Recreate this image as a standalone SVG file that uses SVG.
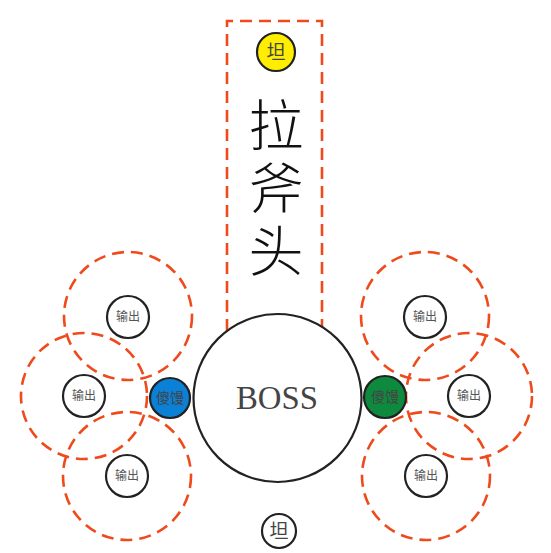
<svg xmlns="http://www.w3.org/2000/svg" width="551" height="553" viewBox="0 0 551 553">
<style>
.dash{fill:none;stroke:#ef4a1b;stroke-width:2.6;stroke-dasharray:12 7}
.node{fill:#fff;stroke:#222;stroke-width:2.2}
.out{font-family:"Noto Sans CJK SC","Noto Sans",sans-serif;font-size:12px;fill:#555;text-anchor:middle}
.cjk{font-family:"Noto Sans CJK SC",sans-serif;text-anchor:middle}
</style>
<rect width="551" height="553" fill="#fff"/>
<g id="connectors">
<path class="dash" d="M227,331 V21 H322 V327"/>
<circle class="dash" cx="128" cy="316" r="64"/>
<circle class="dash" cx="84" cy="396" r="63"/>
<circle class="dash" cx="127" cy="476" r="64"/>
<circle class="dash" cx="425" cy="316" r="64"/>
<circle class="dash" cx="469" cy="396" r="63"/>
<circle class="dash" cx="426" cy="476" r="64"/>
</g>
<g id="title">
<text x="276" y="97" font-family="Noto Sans CJK SC,sans-serif" font-size="55" font-weight="300" fill="#111" style="writing-mode:vertical-rl" letter-spacing="8">拉斧头</text>
</g>
<g id="tan-top">
<circle cx="276" cy="52" r="19" fill="#ffee00" stroke="#222" stroke-width="2.2"/>
<text class="cjk" x="276" y="59" font-size="19" fill="#444">坦</text>
</g>
<g id="boss">
<circle class="node" cx="277.5" cy="398" r="84"/>
<text x="277" y="409" font-family="Liberation Serif,serif" font-size="34" fill="#444" text-anchor="middle" textLength="82" lengthAdjust="spacingAndGlyphs">BOSS</text>
</g>
<g id="tan-bottom">
<circle class="node" cx="279" cy="531" r="17"/>
<text class="cjk" x="279" y="538" font-size="19" fill="#444">坦</text>
</g>
<g id="shaman-left">
<circle cx="170" cy="398" r="20" fill="#0a80d6" stroke="#222" stroke-width="2.2"/>
<text class="cjk" x="170" y="403" font-size="14" fill="#444">傻馒</text>
</g>
<g id="shaman-right">
<circle cx="385" cy="397" r="21" fill="#0e8a3e" stroke="#222" stroke-width="2.2"/>
<text class="cjk" x="385" y="402" font-size="14" fill="#444">傻馒</text>
</g>
<g id="out-l1"><circle class="node" cx="128" cy="317" r="21"/><text class="out" x="128" y="321">输出</text></g>
<g id="out-l2"><circle class="node" cx="84" cy="396" r="21"/><text class="out" x="84" y="400">输出</text></g>
<g id="out-l3"><circle class="node" cx="127" cy="476" r="21"/><text class="out" x="127" y="480">输出</text></g>
<g id="out-r1"><circle class="node" cx="425" cy="317" r="21"/><text class="out" x="425" y="321">输出</text></g>
<g id="out-r2"><circle class="node" cx="469" cy="396" r="21"/><text class="out" x="469" y="400">输出</text></g>
<g id="out-r3"><circle class="node" cx="426" cy="476" r="21"/><text class="out" x="426" y="480">输出</text></g>
</svg>
